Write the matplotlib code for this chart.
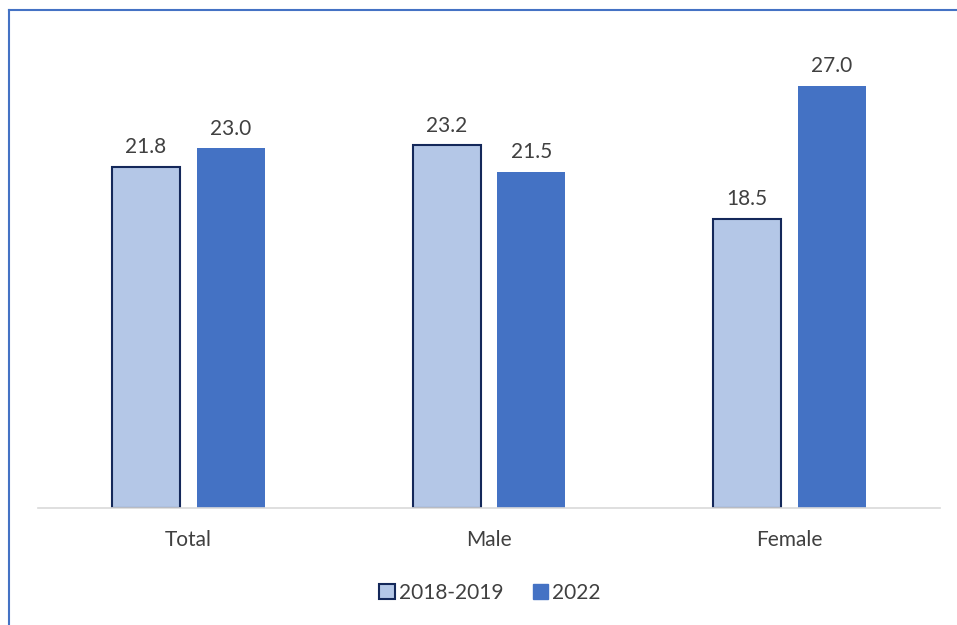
import matplotlib.pyplot as plt
import numpy as np
from matplotlib.lines import Line2D
from matplotlib.patches import Patch

categories = ["Total", "Male", "Female"]
series_names = ["2018-2019", "2022"]
values_2018_2019 = [21.8, 23.2, 18.5]
values_2022 = [23.0, 21.5, 27.0]

light = "#B4C7E7"
dark = "#4472C4"
edge = "#14285A"
text_col = "#404040"

plt.rcParams['font.family'] = ['Lato', 'DejaVu Sans']

W, H = 957, 625
fig = plt.figure(figsize=(W / 100, H / 100), dpi=100)
ax = fig.add_axes([38 / W, 1 - 508 / H, 902 / W, 469 / H])

x = np.arange(len(categories))
bw = 0.226
gap = 0.028
b1 = ax.bar(x - bw / 2 - gap, values_2018_2019, bw, color=light,
            edgecolor=edge, linewidth=1.5, label=series_names[0])
b2 = ax.bar(x + bw / 2 + gap, values_2022, bw, color=dark,
            label=series_names[1])

for bars in (b1, b2):
    for r in bars:
        ax.annotate("{:.1f}".format(r.get_height()),
                    (r.get_x() + r.get_width() / 2, r.get_height()),
                    xytext=(0, 7), textcoords="offset points",
                    ha="center", va="bottom", fontsize=15, color=text_col)

ax.set_xlim(-0.5, 2.5)
ax.set_ylim(0, 30)
ax.set_yticks([])
ax.set_xticks(x)
ax.set_xticklabels(categories, fontsize=15, color=text_col)
ax.tick_params(axis="x", length=0, pad=16)
for s in ["top", "right", "left"]:
    ax.spines[s].set_visible(False)
ax.spines["bottom"].set_color("#D9D9D9")
ax.spines["bottom"].set_linewidth(1.2)

handles = [Patch(facecolor=light, edgecolor=edge, linewidth=1.5),
           Patch(facecolor=dark, edgecolor=dark)]
fig.legend(handles, series_names, loc="center", bbox_to_anchor=(490 / W, 1 - 593 / H),
           ncol=2, frameon=False, fontsize=15, labelcolor=text_col,
           handlelength=0.75, handleheight=0.75, handletextpad=0.2, columnspacing=1.4)

# blue frame on left and top
fig.add_artist(Line2D([8.5 / W, 8.5 / W], [0, 1 - 9.5 / H], color=dark,
                      linewidth=1.5, transform=fig.transFigure))
fig.add_artist(Line2D([8.5 / W, 1], [1 - 9.5 / H, 1 - 9.5 / H], color=dark,
                      linewidth=1.5, transform=fig.transFigure))

plt.savefig("out.png", dpi=100)
